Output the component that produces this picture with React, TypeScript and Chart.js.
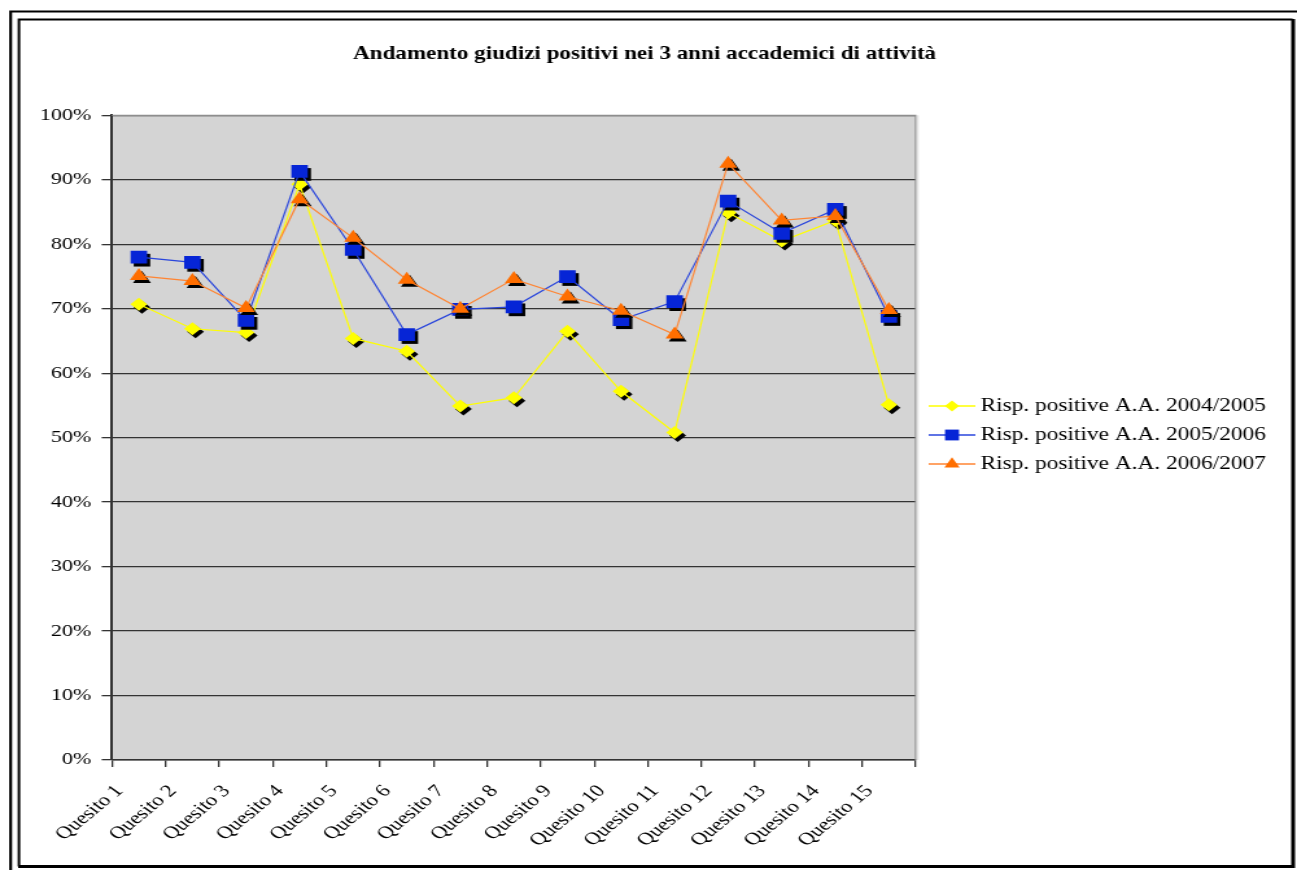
import React, { useEffect, useRef } from 'react';
import { Chart, registerables } from 'chart.js';
import * as helpers from 'chart.js/helpers';

Chart.register(...registerables);

const TITLE = 'Andamento giudizi positivi nei 3 anni accademici di attività';

const categories = [
  'Quesito 1', 'Quesito 2', 'Quesito 3', 'Quesito 4', 'Quesito 5',
  'Quesito 6', 'Quesito 7', 'Quesito 8', 'Quesito 9', 'Quesito 10',
  'Quesito 11', 'Quesito 12', 'Quesito 13', 'Quesito 14', 'Quesito 15',
];

const seriesLabels = [
  'Risp. positive A.A. 2004/2005',
  'Risp. positive A.A. 2005/2006',
  'Risp. positive A.A. 2006/2007',
];

const values2004 = [70.7, 66.9, 66.3, 89.3, 65.4, 63.4, 54.9, 56.2, 66.5, 57.2, 50.8, 84.9, 80.5, 83.7, 55.1];
const values2005 = [78.0, 77.2, 68.2, 91.3, 79.2, 66.0, 69.9, 70.3, 75.0, 68.3, 71.1, 86.7, 81.7, 85.4, 68.8];
const values2006 = [75.1, 74.3, 70.1, 87.0, 81.0, 74.5, 70.0, 74.6, 71.9, 69.7, 66.0, 92.5, 83.7, 84.4, 69.8];

const yMin = 0;
const yMax = 100;
const yStep = 10;

const SERIF = '"Liberation Serif", "Times New Roman", serif';

const STYLES = [
  { line: '#FFFF00', marker: '#FFFF00', shape: 'rectRot', radius: 6.5, order: 3 },
  { line: '#2A46DC', marker: '#0625D6', shape: 'rect', radius: 9, order: 2 },
  { line: '#FF8533', marker: '#FF6E00', shape: 'triangle', radius: 8, order: 1 },
];

function makeLegendIcon(lineColor: string, markerColor: string, shape: string, radius: number) {
  const c = document.createElement('canvas');
  c.width = 40;
  c.height = 20;
  const ctx = c.getContext('2d')!;
  ctx.strokeStyle = lineColor;
  ctx.lineWidth = 1.5;
  ctx.beginPath();
  ctx.moveTo(4, 10);
  ctx.lineTo(40, 10);
  ctx.stroke();
  ctx.fillStyle = markerColor;
  (helpers as any).drawPoint(ctx, { pointStyle: shape, rotation: 0, radius: radius * 0.85, borderWidth: 0 }, 22, 10);
  return c;
}

const legendWidthPlugin = {
  id: 'legendWidth',
  beforeLayout(chart: any) {
    const lg = chart.legend;
    if (lg && !lg.__patched) {
      const orig = lg.update.bind(lg);
      lg.update = (mw: number, mh: number, m: any) => {
        const r = orig(Math.max(mw, 330), mh, m);
        lg.width += 8;
        return r;
      };
      lg.__patched = true;
    }
  },
};

const backgroundPlugin = {
  id: 'bgFrame',
  beforeDraw(chart: any) {
    const { ctx, chartArea: a } = chart;
    ctx.save();
    ctx.fillStyle = '#FFFFFF';
    ctx.fillRect(0, 0, chart.width, chart.height);
    ctx.fillStyle = '#D4D4D4';
    ctx.fillRect(a.left, a.top, a.right - a.left, a.bottom - a.top);
    ctx.strokeStyle = '#000';
    ctx.lineWidth = 2.2;
    ctx.beginPath();
    ctx.moveTo(8.2, chart.height);
    ctx.lineTo(8.2, 11.5);
    ctx.lineTo(chart.width, 11.5);
    ctx.stroke();
    ctx.lineWidth = 2;
    ctx.beginPath();
    ctx.moveTo(14.6, 866.5);
    ctx.lineTo(14.6, 19.5);
    ctx.lineTo(996.6, 19.5);
    ctx.stroke();
    ctx.lineWidth = 3;
    ctx.beginPath();
    ctx.moveTo(997, 19);
    ctx.lineTo(997, 866.5);
    ctx.lineTo(14, 866.5);
    ctx.stroke();
    ctx.restore();
  },
  beforeDatasetsDraw(chart: any) {
    const { ctx, chartArea: a } = chart;
    ctx.save();
    ctx.strokeStyle = '#8E8E8E';
    ctx.lineWidth = 1.2;
    ctx.beginPath();
    ctx.moveTo(a.left, a.top);
    ctx.lineTo(a.right, a.top);
    ctx.lineTo(a.right, a.bottom);
    ctx.stroke();
    ctx.strokeStyle = '#E4E4E4';
    ctx.lineWidth = 1.5;
    ctx.beginPath();
    ctx.moveTo(a.right + 1.6, a.top);
    ctx.lineTo(a.right + 1.6, a.bottom);
    ctx.stroke();
    ctx.restore();
  },
};

const shadowPlugin = {
  id: 'markerShadow',
  beforeDatasetDraw(chart: any, args: any) {
    const ctx = chart.ctx;
    ctx.save();
    ctx.fillStyle = '#000';
    args.meta.data.forEach((pt: any) => {
      const o = pt.options;
      (helpers as any).drawPoint(
        ctx,
        { pointStyle: o.pointStyle, rotation: o.rotation || 0, radius: o.radius, borderWidth: 0 },
        pt.x + 2.4,
        pt.y + 3
      );
    });
    ctx.restore();
  },
};

export default function App() {
  const ref = useRef<HTMLCanvasElement>(null);

  useEffect(() => {
    const canvas = ref.current!;
    const seriesValues = [values2004, values2005, values2006];
    const icons = STYLES.map((s) => makeLegendIcon(s.line, s.marker, s.shape, s.radius));

    const datasets = seriesLabels.map((label, i) => ({
      label,
      data: seriesValues[i],
      borderColor: STYLES[i].line,
      backgroundColor: STYLES[i].marker,
      borderWidth: 1.2,
      pointStyle: STYLES[i].shape,
      pointRadius: STYLES[i].radius,
      pointHoverRadius: STYLES[i].radius,
      pointBackgroundColor: STYLES[i].marker,
      pointBorderColor: STYLES[i].marker,
      pointBorderWidth: 0,
      tension: 0,
      fill: false,
      order: STYLES[i].order,
    }));

    const chart = new Chart(canvas, {
      type: 'line',
      data: { labels: categories, datasets },
      plugins: [legendWidthPlugin, backgroundPlugin, shadowPlugin],
      options: {
        responsive: false,
        animation: false,
        devicePixelRatio: 1,
        layout: { padding: { left: 0, right: 6, top: 0, bottom: 0 } },
        plugins: {
          tooltip: { enabled: false },
          title: {
            display: true,
            text: TITLE,
            color: '#000',
            font: { family: SERIF, size: 17.8, weight: 'bold' },
            padding: { top: 44, bottom: 50 },
          },
          legend: {
            position: 'right',
            align: 'center',
            labels: {
              usePointStyle: true,
              pointStyleWidth: 30,
              boxHeight: 18,
              padding: 11,
              color: '#000',
              font: { family: SERIF, size: 18 },
              generateLabels: (c: any) =>
                c.data.datasets.map((ds: any, i: number) => ({
                  text: ds.label,
                  pointStyle: icons[i],
                  fillStyle: STYLES[i].marker,
                  strokeStyle: STYLES[i].line,
                  lineWidth: 0,
                  hidden: false,
                  datasetIndex: i,
                  fontColor: '#000',
                })),
            },
          },
        },
        scales: {
          x: {
            type: 'category',
            offset: true,
            grid: {
              offset: true,
              drawOnChartArea: false,
              drawTicks: true,
              tickLength: 7,
              color: '#333',
              lineWidth: 1.3,
            },
            border: { color: '#333', width: 1.5 },
            ticks: {
              autoSkip: false,
              minRotation: 47,
              maxRotation: 47,
              padding: 14,
              labelOffset: -15,
              color: '#000',
              font: { family: SERIF, size: 17.5 },
            },
            afterFit: (s: any) => {
              s.height = 110;
            },
          },
          y: {
            min: yMin,
            max: yMax,
            ticks: {
              stepSize: yStep,
              padding: 8,
              color: '#000',
              font: { family: SERIF, size: 17 },
              callback: (v: any) => `${v}%`,
            },
            grid: {
              color: '#333',
              lineWidth: 1.3,
              tickLength: 8,
            },
            border: { color: '#333', width: 2 },
            afterFit: (s: any) => {
              s.width = 86.4;
            },
          },
        },
      },
    } as any);

    return () => chart.destroy();
  }, []);

  return (
    <div style={{ position: 'fixed', left: 0, top: 0, width: 1297, height: 870, background: '#fff' }}>
      <canvas
        ref={ref}
        width={1000}
        height={870}
        style={{ width: '1297px', height: '870px', display: 'block' }}
      />
    </div>
  );
}
